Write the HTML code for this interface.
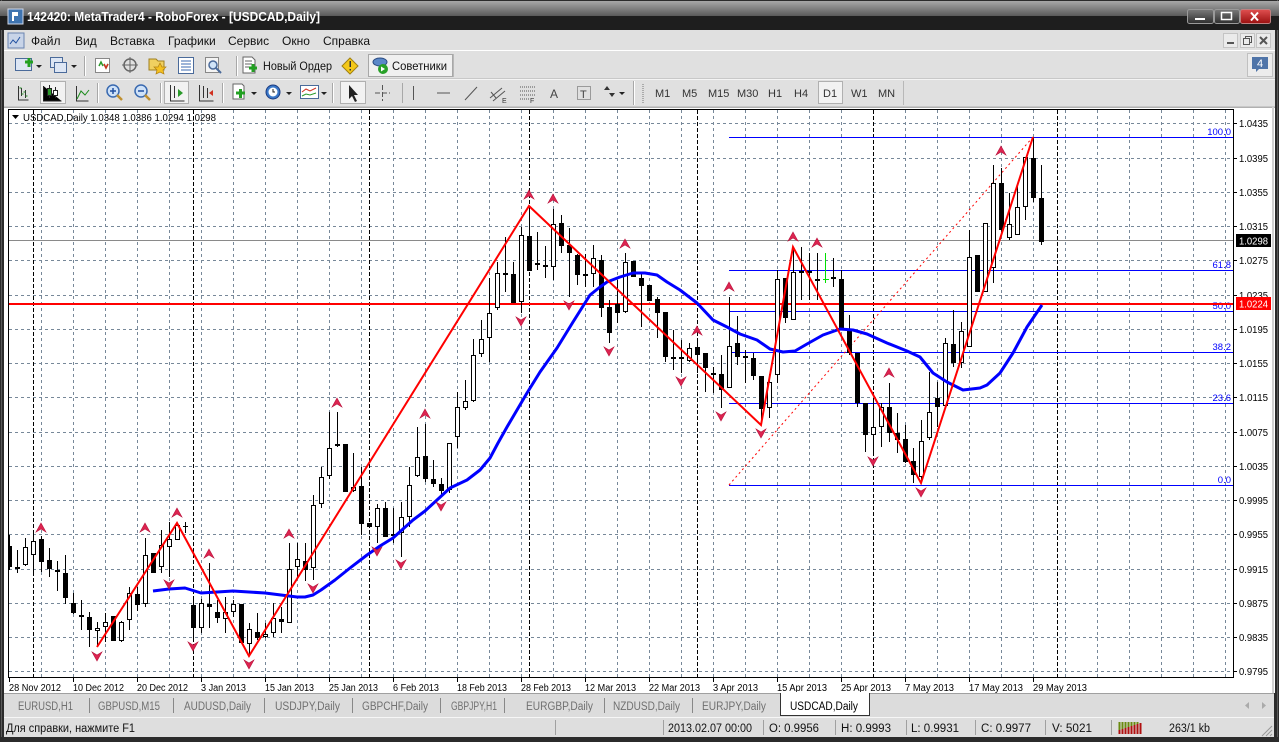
<!DOCTYPE html>
<html><head><meta charset="utf-8">
<style>
html,body{margin:0;padding:0;width:1279px;height:742px;overflow:hidden;background:#2b2b2b}
svg{display:block}
text{font-family:"Liberation Sans","DejaVu Sans",sans-serif}
</style></head>
<body>
<svg width="1279" height="742" viewBox="0 0 1279 742" xmlns="http://www.w3.org/2000/svg">
<defs>
<linearGradient id="tg" x1="0" y1="0" x2="0" y2="1"><stop offset="0" stop-color="#a8a8a8"/><stop offset="1" stop-color="#5a5a5a"/></linearGradient>
<linearGradient id="bg1" x1="0" y1="0" x2="0" y2="1"><stop offset="0" stop-color="#7a7a7a"/><stop offset="1" stop-color="#2e2e2e"/></linearGradient>
<linearGradient id="rg" x1="0" y1="0" x2="0" y2="1"><stop offset="0" stop-color="#e05050"/><stop offset="1" stop-color="#9a1010"/></linearGradient>
<clipPath id="cc"><rect x="9" y="110" width="1224" height="567"/></clipPath>
<path id="ua" d="M0,-5 L5,4 L0,1 L-5,4 Z" fill="#dc2450" stroke="#b8103a" stroke-width="0.6"/>
<path id="da" d="M0,5 L5,-4 L0,-1 L-5,-4 Z" fill="#dc2450" stroke="#b8103a" stroke-width="0.6"/>
</defs>

<!-- window frame -->
<rect width="1279" height="742" fill="#2b2b2b"/>
<rect x="1" y="0" width="1" height="742" fill="#5a5a5a"/>
<rect x="1277" y="0" width="1" height="742" fill="#5a5a5a"/>

<!-- title bar -->
<rect x="0" y="1" width="1279" height="15" fill="url(#tg)"/>
<rect x="0" y="16" width="1279" height="14" fill="#1e1e1e"/>
<rect x="8" y="9" width="15" height="15" fill="#3f74b0" stroke="#d0d8e8"/>
<path d="M12 12h6v4h-4v5h-2z" fill="#fff"/>
<text x="27" y="21" font-size="12.5" font-weight="bold" fill="#ffffff" textLength="293" lengthAdjust="spacingAndGlyphs">142420: MetaTrader4 - RoboForex - [USDCAD,Daily]</text>
<rect x="1187.5" y="9.5" width="26" height="14" rx="2" fill="url(#bg1)" stroke="#9a9a9a"/>
<rect x="1195" y="18" width="10" height="2" fill="#fff"/>
<rect x="1214.5" y="9.5" width="25" height="14" rx="2" fill="url(#bg1)" stroke="#9a9a9a"/>
<rect x="1221.5" y="12.5" width="10" height="7" fill="none" stroke="#fff" stroke-width="1.5"/>
<rect x="1240.5" y="9.5" width="30" height="14" rx="2" fill="url(#rg)" stroke="#c08080"/>
<path d="M1251 12.5l7 8M1258 12.5l-7 8" stroke="#fff" stroke-width="2"/>

<!-- menu bar -->
<rect x="4" y="30" width="1271" height="20" fill="#e0e0e0"/>
<rect x="8" y="33" width="16" height="15" fill="#c8d4e8" stroke="#6a84b0"/>
<path d="M10 44l3-4 3 3 4-6" stroke="#2050a0" fill="none"/>
<g font-size="12" fill="#111">
<text x="31" y="45">Файл</text>
<text x="75" y="45">Вид</text>
<text x="110" y="45">Вставка</text>
<text x="168" y="45">Графики</text>
<text x="228" y="45">Сервис</text>
<text x="282" y="45">Окно</text>
<text x="323" y="45">Справка</text>
</g>
<rect x="1223.5" y="33.5" width="14" height="14" fill="#ebebeb" stroke="#c4c4c4"/>
<rect x="1227" y="42" width="7" height="2" fill="#555"/>
<rect x="1240.5" y="33.5" width="14" height="14" fill="#ebebeb" stroke="#c4c4c4"/>
<rect x="1243.5" y="38.5" width="6" height="6" fill="none" stroke="#555"/>
<path d="M1245.5 38.5v-2h6v6h-2" fill="none" stroke="#555"/>
<rect x="1256.5" y="33.5" width="14" height="14" fill="#ebebeb" stroke="#c4c4c4"/>
<path d="M1260 37l7 7M1267 37l-7 7" stroke="#555" stroke-width="2"/>
<rect x="4" y="50" width="1271" height="1" fill="#ffffff"/>

<!-- toolbars -->
<rect x="4" y="51" width="1271" height="57" fill="#e0e0e0"/>
<rect x="4" y="78" width="1271" height="1" fill="#c8c8c8"/>
<rect x="4" y="79" width="1271" height="1" fill="#f4f4f4"/>
<rect x="4" y="106" width="1271" height="1" fill="#c8c8c8"/>
<!-- toolbar 1 -->
<g>
<rect x="15.5" y="58.5" width="16" height="12" fill="#dde6f4" stroke="#4a6a9a"/>
<path d="M25 62h8M29 58v9" stroke="#22a022" stroke-width="3"/>
<path d="M36 65l3 3 3-3z" fill="#222"/>
<rect x="50.5" y="57.5" width="12" height="10" fill="#dde6f4" stroke="#4a6a9a"/>
<rect x="54.5" y="62.5" width="12" height="10" fill="#dde6f4" stroke="#4a6a9a"/>
<path d="M71 65l3 3 3-3z" fill="#222"/>
<rect x="84" y="56" width="1" height="20" fill="#a8a8a8"/><rect x="85" y="56" width="1" height="20" fill="#fff"/>
<rect x="95.5" y="58.5" width="14" height="14" fill="#fff" stroke="#888"/>
<path d="M99 66l2-4 2 4M104 64l2 4 2-4" stroke="#2a9a2a" stroke-width="1.5" fill="none"/>
<path d="M104 64l2 4 2-4" stroke="#d03020" stroke-width="1.5" fill="none"/>
<circle cx="130" cy="65" r="6" fill="none" stroke="#666" stroke-width="1.5"/>
<path d="M122 65h16M130 57v16" stroke="#666"/>
<path d="M149 59h7l2 2h6v9h-15z" fill="#f0d060" stroke="#a08020"/>
<path d="M160 63l2 4 4 0-3 3 1 4-4-2-4 2 1-4-3-3 4 0z" fill="#f4c020" stroke="#b08010" stroke-width="0.7"/>
<rect x="178.5" y="57.5" width="15" height="16" fill="#fff" stroke="#4a6a9a"/>
<path d="M181 61h10M181 64h10M181 67h10M181 70h10" stroke="#3a6ab0"/>
<rect x="205.5" y="57.5" width="13" height="15" fill="#f4f4f4" stroke="#888"/>
<circle cx="213" cy="65" r="4" fill="#d0e4f8" stroke="#4a6a9a" stroke-width="1.5"/>
<path d="M216 68l5 5" stroke="#4a6a9a" stroke-width="2"/>
<rect x="236" y="56" width="1" height="20" fill="#a8a8a8"/><rect x="237" y="56" width="1" height="20" fill="#fff"/>
<path d="M243 57h9l3 3v13h-12z" fill="#fff" stroke="#666"/>
<path d="M245 61h7M245 64h7M245 67h5" stroke="#666"/>
<path d="M249 68h8M253 64v8" stroke="#22a022" stroke-width="3"/>
<text x="263" y="70" font-size="12" fill="#111" textLength="69" lengthAdjust="spacingAndGlyphs">Новый Ордер</text>
<path d="M350 58l8 8-8 8-8-8z" fill="#f4c818" stroke="#a08010"/>
<rect x="349.5" y="61" width="1.5" height="6" fill="#333"/><rect x="349.5" y="69" width="1.5" height="1.5" fill="#333"/>
<rect x="368.5" y="54.5" width="84" height="22" fill="#f0f0f0" stroke="#a8a8a8"/>
<ellipse cx="380" cy="62" rx="7" ry="4" fill="#5a88c8" stroke="#2a4a80"/>
<circle cx="383" cy="69" r="5" fill="#28a028"/>
<path d="M381 66.5l4 2.5-4 2.5z" fill="#fff"/>
<text x="392" y="70" font-size="12" fill="#111" textLength="55" lengthAdjust="spacingAndGlyphs">Советники</text>
<rect x="453" y="54" width="1" height="23" fill="#b8b8b8"/>
</g>
<!-- notification -->
<rect x="1247.5" y="53.5" width="25" height="23" fill="#ececec" stroke="#c0c0c0"/>
<path d="M1252 57h16v12h-9l-3 3v-3h-4z" fill="#4f74a8"/>
<text x="1260" y="67" font-size="11" fill="#fff" text-anchor="middle">4</text>

<!-- toolbar 2 -->
<g stroke="#333" fill="none">
<path d="M18.5 86v14h10M21.5 88v8M25.5 90v8" />
<path d="M21.5 88h-2M21.5 94h2M25.5 92h-2M25.5 96h2" stroke="#1a8a1a"/>
</g>
<rect x="40.5" y="81.5" width="25" height="22" fill="#f2f2f2" stroke="#b0b0b0"/>
<g stroke="#222">
<path d="M43.5 86v15h18"/>
<path d="M49.5 85v13M55.5 87v11"/>
<rect x="47.5" y="88.5" width="4" height="7" fill="#2a9a2a"/>
<rect x="53.5" y="90.5" width="4" height="5" fill="#fff"/>
</g>
<path d="M76.5 86v15h12" stroke="#333" fill="none"/>
<path d="M77 99l4-8 4 4 4-5" stroke="#1a8a1a" fill="none"/>
<rect x="97" y="83" width="1" height="20" fill="#a8a8a8"/><rect x="98" y="83" width="1" height="20" fill="#fff"/>
<circle cx="113" cy="91" r="6" fill="#cfe2f8" stroke="#3a6ab0" stroke-width="1.5"/>
<path d="M110 91h6M113 88v6" stroke="#2050a0" stroke-width="1.5"/>
<path d="M117 95l5 5" stroke="#c09030" stroke-width="2.5"/>
<circle cx="141" cy="91" r="6" fill="#cfe2f8" stroke="#3a6ab0" stroke-width="1.5"/>
<path d="M138 91h6" stroke="#2050a0" stroke-width="1.5"/>
<path d="M145 95l5 5" stroke="#c09030" stroke-width="2.5"/>
<rect x="160" y="83" width="1" height="20" fill="#a8a8a8"/><rect x="161" y="83" width="1" height="20" fill="#fff"/>
<rect x="164.5" y="81.5" width="24" height="22" fill="#f2f2f2" stroke="#b0b0b0"/>
<path d="M170.5 85v16h14M174.5 86v12" stroke="#333" fill="none"/>
<path d="M178 89l5 4-5 4z" fill="#2a9a2a"/>
<path d="M199.5 85v16h14M203.5 86v12M207.5 88v10" stroke="#333" fill="none"/>
<path d="M213 90l-4 3 4 3z" fill="#d03020"/>
<rect x="222" y="83" width="1" height="20" fill="#a8a8a8"/><rect x="223" y="83" width="1" height="20" fill="#fff"/>
<path d="M233 84h9l2 2v13h-11z" fill="#fff" stroke="#666"/>
<path d="M236 93h9M240.5 89v9" stroke="#22a022" stroke-width="3"/>
<path d="M251 92l3 3 3-3z" fill="#222"/>
<circle cx="273" cy="92" r="7" fill="#3a78c8" stroke="#1a3a80"/>
<circle cx="273" cy="92" r="4.5" fill="#fff"/>
<path d="M273 89v3h2" stroke="#222" fill="none"/>
<path d="M286 92l3 3 3-3z" fill="#222"/>
<rect x="300.5" y="85.5" width="18" height="13" fill="#fff" stroke="#4a6a9a"/>
<path d="M302 92l4-3 4 2 6-3" stroke="#d03020" fill="none"/>
<path d="M302 96l4-2 4 1 6-2" stroke="#2a9a2a" fill="none"/>
<path d="M321 92l3 3 3-3z" fill="#222"/>
<rect x="332" y="83" width="1" height="20" fill="#a8a8a8"/><rect x="333" y="83" width="1" height="20" fill="#fff"/>
<rect x="340.5" y="81.5" width="25" height="22" fill="#f2f2f2" stroke="#b0b0b0"/>
<path d="M349 85v14l3-3 3 6 2-1-3-6h4z" fill="#222"/>
<path d="M375 93h15M382.5 85v16" stroke="#555" stroke-dasharray="5,2"/>
<rect x="402" y="83" width="1" height="20" fill="#a8a8a8"/>
<path d="M413.5 86v14" stroke="#555"/>
<path d="M437 93h13" stroke="#555"/>
<path d="M465 100l12-13" stroke="#555"/>
<path d="M490 98l12-10M493 101l12-10M491 92l5 6" stroke="#555"/>
<text x="502" y="103" font-size="7" fill="#333">E</text>
<path d="M520 87h15M520 91h15M520 95h15M520 99h10" stroke="#555" stroke-dasharray="1,1"/>
<text x="530" y="103" font-size="7" fill="#333">F</text>
<text x="550" y="98" font-size="12" fill="#444">A</text>
<rect x="577.5" y="86.5" width="13" height="13" fill="none" stroke="#555" stroke-dasharray="1,1"/>
<text x="580" y="98" font-size="11" fill="#444">T</text>
<path d="M607 86l3 4h-6zM612 97l3-4h-6z" fill="#333"/>
<path d="M619 92l3 3 3-3z" fill="#222"/>
<rect x="633" y="81" width="1" height="24" fill="#a8a8a8"/><rect x="634" y="81" width="1" height="24" fill="#fff"/>
<path d="M643 84v20" stroke="#aaa" stroke-dasharray="1,1" stroke-width="2"/>
<rect x="818.5" y="81.5" width="24" height="22" fill="#f2f2f2" stroke="#b0b0b0"/>
<g font-size="11" fill="#333">
<text x="655" y="97">M1</text>
<text x="682" y="97">M5</text>
<text x="708" y="97">M15</text>
<text x="737" y="97">M30</text>
<text x="768" y="97">H1</text>
<text x="794" y="97">H4</text>
<text x="823" y="97">D1</text>
<text x="851" y="97">W1</text>
<text x="878" y="97">MN</text>
</g>
<rect x="903" y="81" width="1" height="24" fill="#b8b8b8"/>

<!-- chart window -->
<rect x="4" y="107" width="1271" height="586" fill="#ffffff"/>
<rect x="4" y="107" width="1271" height="1" fill="#b0b0b0"/>
<rect x="1272" y="107" width="2" height="586" fill="#d0d0d0"/>

<!-- grid -->
<g stroke="#778899" stroke-dasharray="3,3" fill="none">
<path d="M9 123.5H1233M9 158.5H1233M9 192.5H1233M9 226.5H1233M9 260.5H1233M9 295.5H1233M9 329.5H1233M9 363.5H1233M9 397.5H1233M9 432.5H1233M9 466.5H1233M9 500.5H1233M9 534.5H1233M9 569.5H1233M9 603.5H1233M9 637.5H1233M9 671.5H1233"/>
<path d="M41.5 110V677M73.5 110V677M105.5 110V677M137.5 110V677M169.5 110V677M201.5 110V677M233.5 110V677M265.5 110V677M297.5 110V677M329.5 110V677M361.5 110V677M393.5 110V677M425.5 110V677M457.5 110V677M489.5 110V677M521.5 110V677M553.5 110V677M585.5 110V677M617.5 110V677M649.5 110V677M681.5 110V677M713.5 110V677M745.5 110V677M777.5 110V677M809.5 110V677M841.5 110V677M873.5 110V677M905.5 110V677M937.5 110V677M969.5 110V677M1001.5 110V677M1033.5 110V677M1065.5 110V677M1097.5 110V677M1129.5 110V677M1161.5 110V677M1193.5 110V677M1225.5 110V677"/>
</g>
<g stroke="#000" stroke-dasharray="4,2" fill="none">
<path d="M33.5 110V677M193.5 110V677M369.5 110V677M529.5 110V677M697.5 110V677M873.5 110V677M1057.5 110V677"/>
</g>

<g clip-path="url(#cc)">
<!-- horizontal lines -->
<path d="M9 240.5H1233" stroke="#8a8a8a" stroke-width="1"/>
<g stroke="#0000ff" stroke-width="1">
<path d="M729 137.5H1233M729 270.5H1233M729 311.5H1233M729 352.5H1233M729 403.5H1233M729 485.5H1233"/>
</g>
<g font-size="9.5" fill="#0000ff" text-anchor="end">
<text x="1231" y="135">100.0</text>
<text x="1231" y="268">61.8</text>
<text x="1231" y="309">50.0</text>
<text x="1231" y="350">38.2</text>
<text x="1231" y="401">23.6</text>
<text x="1231" y="483">0.0</text>
</g>
<path d="M729 485L1033 137" stroke="#ff0000" stroke-width="1" stroke-dasharray="2,3" fill="none"/>
<path d="M9 304H1233" stroke="#ff0000" stroke-width="2"/>

<!-- wicks -->
<path stroke="#000" stroke-width="1" fill="none" d="M9.5 535V570M17.5 550V573M25.5 538V566M33.5 533V573M41.5 536V572M49.5 548V577M57.5 561V591M65.5 555V604M73.5 593V614M81.5 600V630M89.5 612V647M97.5 622V647M105.5 613V642M113.5 616V641M121.5 621V642M129.5 587V630M137.5 587V611M145.5 538V607M153.5 553V573M161.5 530V573M169.5 522V577M177.5 523V540M185.5 522V533M193.5 597V640M201.5 599V633M209.5 563V628M217.5 600V623M225.5 597V633M233.5 600V617M241.5 604V643M249.5 623V656M257.5 613V640M265.5 623V638M273.5 603V637M281.5 607V633M289.5 543V623M297.5 543V577M305.5 543V581M313.5 495V580M321.5 467V508M329.5 412V479M337.5 412V447M345.5 444V492M353.5 453V492M361.5 467V535M369.5 523V527M377.5 504V543M385.5 502V537M393.5 508V543M401.5 502V557M409.5 467V527M417.5 427V477M425.5 424V482M433.5 460V487M441.5 478V497M449.5 443V493M457.5 392V448M465.5 380V410M473.5 339V402M481.5 320V357M489.5 278V362M497.5 262V310M505.5 237V292M513.5 262V303M521.5 227V313M529.5 206V271M537.5 232V270M545.5 246V278M553.5 209V280M561.5 215V253M569.5 228V297M577.5 254V285M585.5 254V287M593.5 245V287M601.5 255V317M609.5 300V343M617.5 280V323M625.5 253V313M633.5 261V277M641.5 273V327M649.5 285V301M657.5 297V338M665.5 312V362M673.5 330V370M681.5 340V373M689.5 343V362M697.5 340V373M705.5 353V392M713.5 367V393M721.5 355V408M729.5 297V388M737.5 316V365M745.5 350V383M753.5 353V380M761.5 376V425M769.5 374V418M777.5 270V383M785.5 278V323M793.5 247V320M801.5 247V300M809.5 253V300M817.5 253V300M833.5 258V287M841.5 270V330M849.5 315V355M857.5 353V407M865.5 403V452M873.5 398V452M881.5 403V447M889.5 383V442M897.5 413V453M905.5 425V463M913.5 448V483M921.5 420V483M929.5 372V440M937.5 382V427M945.5 338V407M953.5 310V367M961.5 322V368M969.5 230V347M977.5 255V292M985.5 223V292M993.5 165V283M1001.5 168V232M1009.5 193V240M1017.5 183V235M1025.5 157V220M1033.5 137V202M1041.5 165V245"/>
<path d="M825.5 253V283M823 279.5H829" stroke="#00e000" stroke-width="1"/>

<!-- black bodies -->
<g fill="#000">
<rect x="7" y="546" width="5" height="21"/>
<rect x="15" y="567" width="5" height="2"/>
<rect x="39" y="539" width="5" height="23"/>
<rect x="47" y="560" width="5" height="9"/>
<rect x="55" y="570" width="5" height="2"/>
<rect x="63" y="573" width="5" height="25"/>
<rect x="71" y="603" width="5" height="10"/>
<rect x="79" y="615" width="5" height="2"/>
<rect x="87" y="617" width="5" height="13"/>
<rect x="111" y="616" width="5" height="25"/>
<rect x="135" y="594" width="5" height="11"/>
<rect x="151" y="553" width="5" height="20"/>
<rect x="183" y="526" width="5" height="1"/>
<rect x="191" y="605" width="5" height="23"/>
<rect x="207" y="604" width="5" height="3"/>
<rect x="215" y="612" width="5" height="6"/>
<rect x="239" y="604" width="5" height="39"/>
<rect x="255" y="632" width="5" height="6"/>
<rect x="279" y="619" width="5" height="3"/>
<rect x="303" y="561" width="5" height="9"/>
<rect x="335" y="444" width="5" height="2"/>
<rect x="343" y="444" width="5" height="48"/>
<rect x="359" y="486" width="5" height="38"/>
<rect x="367" y="523" width="5" height="4"/>
<rect x="383" y="508" width="5" height="29"/>
<rect x="391" y="534" width="5" height="2"/>
<rect x="423" y="456" width="5" height="23"/>
<rect x="431" y="479" width="5" height="5"/>
<rect x="439" y="484" width="5" height="7"/>
<rect x="511" y="274" width="5" height="29"/>
<rect x="527" y="236" width="5" height="35"/>
<rect x="535" y="263" width="5" height="2"/>
<rect x="543" y="265" width="5" height="2"/>
<rect x="559" y="223" width="5" height="23"/>
<rect x="567" y="245" width="5" height="8"/>
<rect x="575" y="255" width="5" height="20"/>
<rect x="583" y="274" width="5" height="2"/>
<rect x="599" y="260" width="5" height="48"/>
<rect x="607" y="307" width="5" height="26"/>
<rect x="615" y="304" width="5" height="9"/>
<rect x="631" y="261" width="5" height="16"/>
<rect x="639" y="278" width="5" height="8"/>
<rect x="647" y="285" width="5" height="16"/>
<rect x="655" y="299" width="5" height="14"/>
<rect x="663" y="312" width="5" height="45"/>
<rect x="671" y="357" width="5" height="2"/>
<rect x="679" y="357" width="5" height="2"/>
<rect x="695" y="347" width="5" height="8"/>
<rect x="703" y="353" width="5" height="15"/>
<rect x="711" y="373" width="5" height="2"/>
<rect x="719" y="374" width="5" height="16"/>
<rect x="735" y="343" width="5" height="14"/>
<rect x="743" y="356" width="5" height="2"/>
<rect x="751" y="358" width="5" height="18"/>
<rect x="759" y="376" width="5" height="33"/>
<rect x="783" y="278" width="5" height="40"/>
<rect x="799" y="271" width="5" height="2"/>
<rect x="807" y="271" width="5" height="2"/>
<rect x="815" y="279" width="5" height="2"/>
<rect x="831" y="277" width="5" height="2"/>
<rect x="839" y="279" width="5" height="51"/>
<rect x="847" y="329" width="5" height="24"/>
<rect x="855" y="353" width="5" height="50"/>
<rect x="863" y="403" width="5" height="32"/>
<rect x="887" y="407" width="5" height="26"/>
<rect x="895" y="433" width="5" height="7"/>
<rect x="903" y="439" width="5" height="23"/>
<rect x="911" y="461" width="5" height="14"/>
<rect x="935" y="398" width="5" height="9"/>
<rect x="951" y="344" width="5" height="19"/>
<rect x="975" y="255" width="5" height="37"/>
<rect x="999" y="183" width="5" height="47"/>
<rect x="1031" y="158" width="5" height="40"/>
<rect x="1039" y="198" width="5" height="44"/>
</g>
<!-- white bodies -->
<g fill="#fff" stroke="#000" stroke-width="1">
<rect x="23.5" y="547.5" width="4" height="17"/>
<rect x="31.5" y="541.5" width="4" height="13"/>
<rect x="95.5" y="628.5" width="4" height="2"/>
<rect x="103.5" y="622.5" width="4" height="4"/>
<rect x="119.5" y="622.5" width="4" height="18"/>
<rect x="127.5" y="593.5" width="4" height="26"/>
<rect x="143.5" y="555.5" width="4" height="48"/>
<rect x="159.5" y="545.5" width="4" height="21"/>
<rect x="167.5" y="539.5" width="4" height="7"/>
<rect x="175.5" y="525.5" width="4" height="14"/>
<rect x="199.5" y="603.5" width="4" height="24"/>
<rect x="223.5" y="612.5" width="4" height="6"/>
<rect x="231.5" y="604.5" width="4" height="7"/>
<rect x="247.5" y="629.5" width="4" height="14"/>
<rect x="263.5" y="634.5" width="4" height="2"/>
<rect x="271.5" y="618.5" width="4" height="14"/>
<rect x="287.5" y="569.5" width="4" height="53"/>
<rect x="295.5" y="559.5" width="4" height="7"/>
<rect x="311.5" y="505.5" width="4" height="62"/>
<rect x="319.5" y="477.5" width="4" height="26"/>
<rect x="327.5" y="448.5" width="4" height="27"/>
<rect x="351.5" y="487.5" width="4" height="3"/>
<rect x="375.5" y="508.5" width="4" height="18"/>
<rect x="399.5" y="517.5" width="4" height="15"/>
<rect x="407.5" y="485.5" width="4" height="31"/>
<rect x="415.5" y="457.5" width="4" height="18"/>
<rect x="447.5" y="443.5" width="4" height="46"/>
<rect x="455.5" y="407.5" width="4" height="29"/>
<rect x="463.5" y="401.5" width="4" height="6"/>
<rect x="471.5" y="355.5" width="4" height="45"/>
<rect x="479.5" y="339.5" width="4" height="14"/>
<rect x="487.5" y="313.5" width="4" height="24"/>
<rect x="495.5" y="273.5" width="4" height="34"/>
<rect x="503.5" y="273.5" width="4" height="1"/>
<rect x="519.5" y="235.5" width="4" height="66"/>
<rect x="551.5" y="224.5" width="4" height="42"/>
<rect x="591.5" y="258.5" width="4" height="15"/>
<rect x="623.5" y="262.5" width="4" height="49"/>
<rect x="687.5" y="348.5" width="4" height="12"/>
<rect x="727.5" y="346.5" width="4" height="41"/>
<rect x="767.5" y="382.5" width="4" height="25"/>
<rect x="775.5" y="279.5" width="4" height="95"/>
<rect x="791.5" y="272.5" width="4" height="47"/>
<rect x="871.5" y="427.5" width="4" height="7"/>
<rect x="879.5" y="407.5" width="4" height="19"/>
<rect x="919.5" y="441.5" width="4" height="35"/>
<rect x="927.5" y="412.5" width="4" height="25"/>
<rect x="943.5" y="343.5" width="4" height="62"/>
<rect x="959.5" y="331.5" width="4" height="31"/>
<rect x="967.5" y="257.5" width="4" height="89"/>
<rect x="983.5" y="223.5" width="4" height="68"/>
<rect x="991.5" y="183.5" width="4" height="84"/>
<rect x="1007.5" y="224.5" width="4" height="13"/>
<rect x="1015.5" y="207.5" width="4" height="27"/>
<rect x="1023.5" y="157.5" width="4" height="49"/>
</g>

<!-- moving average -->
<polyline fill="none" stroke="#0000ff" stroke-width="3" stroke-linejoin="round" points="153,591 169,589 185,588 201,593 217,592 233,591 249,592 265,593 281,595 297,597 305,597 313,595 321,590 335,580 350,568 367,555 380,546 393,538 413,520 425,511 437,500 450,488 467,480 480,470 490,458 498,443 507,427 517,410 527,393 540,372 557,348 573,322 590,295 600,287 607,282 620,277 633,273 645,273 657,275 667,282 680,290 697,303 713,320 727,327 740,334 757,340 770,349 783,352 795,351 807,344 823,335 840,329 853,330 867,334 887,343 907,351 920,357 933,373 947,382 963,390 980,388 987,385 1000,373 1013,353 1027,327 1042,305"/>

<!-- zigzag -->
<polyline fill="none" stroke="#ff0000" stroke-width="2" stroke-linejoin="miter" points="97,647 177,523 249,656 529,206 761,425 793,247 921,483 1033,137"/>

<!-- fractal arrows -->
<use href="#ua" x="41" y="528"/><use href="#ua" x="145" y="528"/><use href="#ua" x="177" y="513"/><use href="#ua" x="209" y="554"/><use href="#ua" x="289" y="534"/><use href="#ua" x="337" y="403"/><use href="#ua" x="425" y="414"/><use href="#ua" x="529" y="195"/><use href="#ua" x="553" y="199"/><use href="#ua" x="625" y="244"/><use href="#ua" x="697" y="331"/><use href="#ua" x="729" y="287"/><use href="#ua" x="793" y="237"/><use href="#ua" x="817" y="243"/><use href="#ua" x="889" y="373"/><use href="#ua" x="1001" y="151"/>
<use href="#da" x="97" y="656"/><use href="#da" x="169" y="584"/><use href="#da" x="193" y="646"/><use href="#da" x="249" y="664"/><use href="#da" x="313" y="588"/><use href="#da" x="377" y="551"/><use href="#da" x="401" y="564"/><use href="#da" x="441" y="506"/><use href="#da" x="521" y="321"/><use href="#da" x="569" y="305"/><use href="#da" x="609" y="351"/><use href="#da" x="681" y="381"/><use href="#da" x="721" y="416"/><use href="#da" x="761" y="433"/><use href="#da" x="873" y="461"/><use href="#da" x="921" y="492"/>
</g>

<!-- chart frame -->
<rect x="8.5" y="109.5" width="1225" height="568" fill="none" stroke="#000" stroke-width="1"/>

<!-- header -->
<path d="M12 115h7l-3.5 4z" fill="#000"/>
<text x="23" y="121" font-size="10.5" fill="#000" textLength="193" lengthAdjust="spacingAndGlyphs">USDCAD,Daily  1.0348 1.0386 1.0294 1.0298</text>

<!-- price axis -->
<path stroke="#000" d="M1233 123.5h4M1233 158.5h4M1233 192.5h4M1233 226.5h4M1233 260.5h4M1233 295.5h4M1233 329.5h4M1233 363.5h4M1233 397.5h4M1233 432.5h4M1233 466.5h4M1233 500.5h4M1233 534.5h4M1233 569.5h4M1233 603.5h4M1233 637.5h4M1233 671.5h4"/>
<g font-size="10" fill="#000">
<text x="1239" y="127" textLength="29" lengthAdjust="spacingAndGlyphs">1.0435</text>
<text x="1239" y="162" textLength="29" lengthAdjust="spacingAndGlyphs">1.0395</text>
<text x="1239" y="196" textLength="29" lengthAdjust="spacingAndGlyphs">1.0355</text>
<text x="1239" y="230" textLength="29" lengthAdjust="spacingAndGlyphs">1.0315</text>
<text x="1239" y="264" textLength="29" lengthAdjust="spacingAndGlyphs">1.0275</text>
<text x="1239" y="299" textLength="29" lengthAdjust="spacingAndGlyphs">1.0235</text>
<text x="1239" y="333" textLength="29" lengthAdjust="spacingAndGlyphs">1.0195</text>
<text x="1239" y="367" textLength="29" lengthAdjust="spacingAndGlyphs">1.0155</text>
<text x="1239" y="401" textLength="29" lengthAdjust="spacingAndGlyphs">1.0115</text>
<text x="1239" y="436" textLength="29" lengthAdjust="spacingAndGlyphs">1.0075</text>
<text x="1239" y="470" textLength="29" lengthAdjust="spacingAndGlyphs">1.0035</text>
<text x="1239" y="504" textLength="29" lengthAdjust="spacingAndGlyphs">0.9995</text>
<text x="1239" y="538" textLength="29" lengthAdjust="spacingAndGlyphs">0.9955</text>
<text x="1239" y="573" textLength="29" lengthAdjust="spacingAndGlyphs">0.9915</text>
<text x="1239" y="607" textLength="29" lengthAdjust="spacingAndGlyphs">0.9875</text>
<text x="1239" y="641" textLength="29" lengthAdjust="spacingAndGlyphs">0.9835</text>
<text x="1239" y="675" textLength="29" lengthAdjust="spacingAndGlyphs">0.9795</text>
</g>
<rect x="1236" y="234" width="35" height="13" fill="#000"/>
<text x="1239" y="244.5" font-size="10" fill="#fff" textLength="29" lengthAdjust="spacingAndGlyphs">1.0298</text>
<rect x="1236" y="297" width="35" height="13" fill="#ff0000"/>
<text x="1239" y="307.5" font-size="10" fill="#fff" textLength="29" lengthAdjust="spacingAndGlyphs">1.0224</text>

<!-- date axis -->
<path stroke="#000" d="M9.5 677v5M73.5 677v5M137.5 677v5M201.5 677v5M265.5 677v5M329.5 677v5M393.5 677v5M457.5 677v5M521.5 677v5M585.5 677v5M649.5 677v5M713.5 677v5M777.5 677v5M841.5 677v5M905.5 677v5M969.5 677v5M1033.5 677v5"/>
<g font-size="10" fill="#000">
<text x="9" y="691" textLength="52" lengthAdjust="spacingAndGlyphs">28 Nov 2012</text>
<text x="73" y="691" textLength="51" lengthAdjust="spacingAndGlyphs">10 Dec 2012</text>
<text x="137" y="691" textLength="51" lengthAdjust="spacingAndGlyphs">20 Dec 2012</text>
<text x="201" y="691" textLength="45" lengthAdjust="spacingAndGlyphs">3 Jan 2013</text>
<text x="265" y="691" textLength="49" lengthAdjust="spacingAndGlyphs">15 Jan 2013</text>
<text x="329" y="691" textLength="49" lengthAdjust="spacingAndGlyphs">25 Jan 2013</text>
<text x="393" y="691" textLength="46" lengthAdjust="spacingAndGlyphs">6 Feb 2013</text>
<text x="457" y="691" textLength="50" lengthAdjust="spacingAndGlyphs">18 Feb 2013</text>
<text x="521" y="691" textLength="50" lengthAdjust="spacingAndGlyphs">28 Feb 2013</text>
<text x="585" y="691" textLength="51" lengthAdjust="spacingAndGlyphs">12 Mar 2013</text>
<text x="649" y="691" textLength="51" lengthAdjust="spacingAndGlyphs">22 Mar 2013</text>
<text x="713" y="691" textLength="45" lengthAdjust="spacingAndGlyphs">3 Apr 2013</text>
<text x="777" y="691" textLength="50" lengthAdjust="spacingAndGlyphs">15 Apr 2013</text>
<text x="841" y="691" textLength="50" lengthAdjust="spacingAndGlyphs">25 Apr 2013</text>
<text x="905" y="691" textLength="49" lengthAdjust="spacingAndGlyphs">7 May 2013</text>
<text x="969" y="691" textLength="54" lengthAdjust="spacingAndGlyphs">17 May 2013</text>
<text x="1033" y="691" textLength="54" lengthAdjust="spacingAndGlyphs">29 May 2013</text>
</g>

<!-- tabs -->
<rect x="4" y="693" width="1270" height="24" fill="#dcdcdc"/>
<rect x="4" y="693" width="1270" height="1" fill="#a0a0a0"/>
<g fill="#888">
<rect x="89" y="698" width="1" height="15"/><rect x="173" y="698" width="1" height="15"/><rect x="264" y="698" width="1" height="15"/><rect x="352" y="698" width="1" height="15"/><rect x="440" y="698" width="1" height="15"/><rect x="504" y="698" width="1" height="15"/><rect x="604" y="698" width="1" height="15"/><rect x="692" y="698" width="1" height="15"/>
</g>
<rect x="780.5" y="693.5" width="89" height="22" fill="#ffffff" stroke="#333"/>
<rect x="781" y="692" width="88" height="3" fill="#ffffff"/>
<g font-size="11.5" fill="#707070">
<text x="18" y="710" textLength="55" lengthAdjust="spacingAndGlyphs">EURUSD,H1</text>
<text x="98" y="710" textLength="62" lengthAdjust="spacingAndGlyphs">GBPUSD,M15</text>
<text x="184" y="710" textLength="67" lengthAdjust="spacingAndGlyphs">AUDUSD,Daily</text>
<text x="275" y="710" textLength="65" lengthAdjust="spacingAndGlyphs">USDJPY,Daily</text>
<text x="362" y="710" textLength="66" lengthAdjust="spacingAndGlyphs">GBPCHF,Daily</text>
<text x="451" y="710" textLength="46" lengthAdjust="spacingAndGlyphs">GBPJPY,H1</text>
<text x="526" y="710" textLength="67" lengthAdjust="spacingAndGlyphs">EURGBP,Daily</text>
<text x="613" y="710" textLength="67" lengthAdjust="spacingAndGlyphs">NZDUSD,Daily</text>
<text x="702" y="710" textLength="64" lengthAdjust="spacingAndGlyphs">EURJPY,Daily</text>
</g>
<text x="790" y="710" font-size="11.5" fill="#000" textLength="68" lengthAdjust="spacingAndGlyphs">USDCAD,Daily</text>
<path d="M1249 702l-4 3.5 4 3.5z" fill="#aaa"/>
<path d="M1262 702l4 3.5-4 3.5z" fill="#aaa"/>

<!-- status bar -->
<rect x="4" y="717" width="1270" height="20" fill="#dedede"/>
<rect x="4" y="717" width="1270" height="1" fill="#f6f6f6"/>
<g fill="#a0a0a0">
<rect x="555" y="720" width="1" height="15"/><rect x="663" y="720" width="1" height="15"/><rect x="763" y="720" width="1" height="15"/><rect x="835" y="720" width="1" height="15"/><rect x="906" y="720" width="1" height="15"/><rect x="975" y="720" width="1" height="15"/><rect x="1045" y="720" width="1" height="15"/><rect x="1111" y="720" width="1" height="15"/>
</g>
<g font-size="11.5" fill="#111">
<text x="6" y="732" textLength="129" lengthAdjust="spacingAndGlyphs">Для справки, нажмите F1</text>
<text x="668" y="732" textLength="84" lengthAdjust="spacingAndGlyphs">2013.02.07 00:00</text>
<text x="769" y="732" textLength="50" lengthAdjust="spacingAndGlyphs">O: 0.9956</text>
<text x="841" y="732" textLength="50" lengthAdjust="spacingAndGlyphs">H: 0.9993</text>
<text x="911" y="732" textLength="48" lengthAdjust="spacingAndGlyphs">L: 0.9931</text>
<text x="981" y="732" textLength="50" lengthAdjust="spacingAndGlyphs">C: 0.9977</text>
<text x="1052" y="732" textLength="40" lengthAdjust="spacingAndGlyphs">V: 5021</text>
<text x="1169" y="732" textLength="41" lengthAdjust="spacingAndGlyphs">263/1 kb</text>
</g>
<g>
<path d="M1119.5 734v-4M1122.5 734v-5M1125.5 734v-6M1128.5 734v-7M1131.5 734v-8M1134.5 734v-9M1137.5 734v-10M1140.5 734v-11" stroke="#b01010" stroke-width="2"/>
<path d="M1119.5 730v-8M1122.5 729v-7M1125.5 728v-6M1128.5 727v-5M1131.5 726v-4M1134.5 725v-3M1137.5 724v-2" stroke="#6a8a10" stroke-width="2"/>
</g>
<path d="M1272 726l-10 10M1272 730l-6 6M1272 734l-2 2" stroke="#999"/>
<rect x="0" y="737" width="1279" height="5" fill="#2b2b2b"/>
</svg>
</body></html>
